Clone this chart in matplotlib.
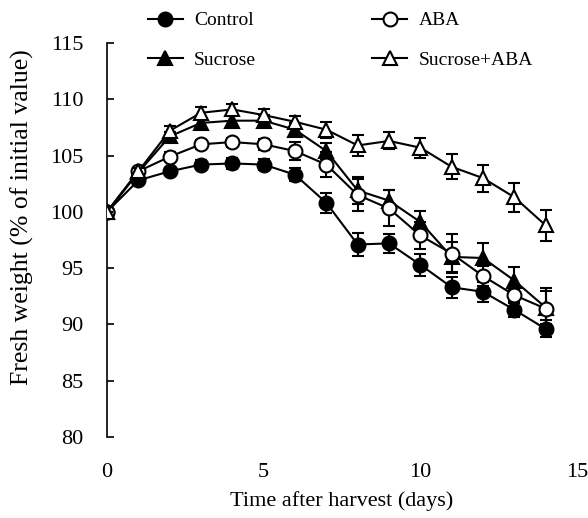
import matplotlib
matplotlib.use("Agg")
import matplotlib.pyplot as plt
from matplotlib.lines import Line2D
import numpy as np

plt.rcParams['font.family'] = ['Liberation Serif', 'DejaVu Serif']
plt.rcParams['font.size'] = 16

# days after harvest
days = np.arange(0, 15)

# fresh weight (% of initial value)
control = [100, 102.8, 103.6, 104.2, 104.3, 104.2, 103.3, 100.8, 97.1, 97.2, 95.3, 93.3, 92.9, 91.3, 89.6]
control_err = [0, 0.3, 0.3, 0.4, 0.5, 0.5, 0.6, 0.9, 1.0, 0.85, 1.0, 0.95, 0.9, 0.6, 0.75]

aba = [100, 103.6, 104.9, 106.0, 106.2, 106.0, 105.4, 104.2, 101.5, 100.3, 97.9, 96.3, 94.3, 92.6, 91.4]
aba_err = [0, 0.3, 0.4, 0.4, 0.4, 0.5, 0.8, 1.1, 1.4, 1.6, 1.2, 1.7, 0.9, 0.5, 1.8]

sucrose = [100, 103.5, 106.7, 107.9, 108.1, 108.1, 107.3, 105.4, 101.9, 101.0, 99.1, 96.0, 95.9, 93.9, 91.5]
sucrose_err = [0, 0.3, 0.4, 0.4, 0.4, 0.5, 0.6, 0.7, 1.2, 0.95, 1.0, 1.3, 1.3, 1.2, 1.5]

suc_aba = [100, 103.6, 107.2, 108.8, 109.1, 108.6, 108.0, 107.3, 105.9, 106.3, 105.7, 104.0, 103.0, 101.3, 98.8]
suc_aba_err = [0, 0.3, 0.4, 0.5, 0.5, 0.5, 0.5, 0.7, 0.9, 0.75, 0.9, 1.1, 1.2, 1.3, 1.4]

fig = plt.figure(figsize=(5.88, 5.18), dpi=100)
ax = fig.add_axes([107/588, 1 - 437/518, (577 - 107)/588, (437 - 43)/518])

style = dict(color='black', lw=1.5, elinewidth=1.5, capsize=4.5, capthick=1.5)

series = [
    ('Control', control, control_err, 'o', 'black'),
    ('Sucrose', sucrose, sucrose_err, '^', 'black'),
    ('ABA', aba, aba_err, 'o', 'white'),
    ('Sucrose+ABA', suc_aba, suc_aba_err, '^', 'white'),
]

handles = []
for z, (name, vals, err, mk, fc) in enumerate(series):
    ms = 10 if mk == 'o' else 10.5
    ax.errorbar(days, vals, yerr=err, marker=mk, ms=ms, mfc=fc, mec='black',
                mew=1.5, zorder=2 + z, **style)
    handles.append(Line2D([], [], color='black', lw=1.5, marker=mk, ms=ms,
                          mfc=fc, mec='black', mew=1.5, label=name))

ax.set_xlim(0, 15)
ax.set_ylim(80, 115)
ax.set_xticks([0, 5, 10, 15])
ax.set_yticks(np.arange(80, 116, 5))

for s in ['top', 'right', 'bottom']:
    ax.spines[s].set_visible(False)
ax.spines['left'].set_linewidth(1.2)
ax.spines['left'].set_zorder(1)

ax.tick_params(axis='y', direction='in', length=5, width=1.2, pad=17)
ax.tick_params(axis='x', length=0, pad=19)

ax.set_xlabel('Time after harvest (days)', labelpad=6)
fig.text(22/588, 1 - 217/518, 'Fresh weight (% of initial value)', fontsize=18.5,
         rotation=90, ha='center', va='center')

fig.legend(handles=handles, ncol=2, fontsize=14,
           loc='upper left', bbox_to_anchor=(138/588, 1 - 2/518),
           frameon=False, handlelength=1.8, handletextpad=0.57,
           columnspacing=6.0, labelspacing=1.15, borderpad=0)

fig.savefig('out.png', dpi=100)
